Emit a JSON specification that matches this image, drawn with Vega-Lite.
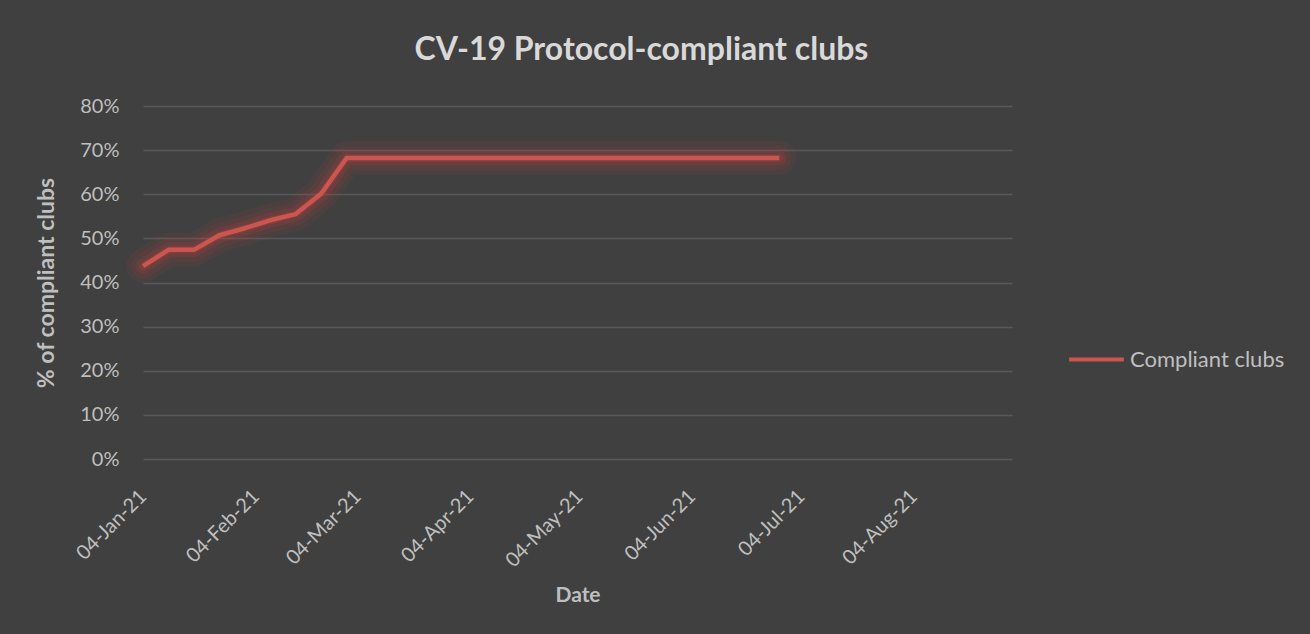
{
  "$schema": "https://vega.github.io/schema/vega-lite/v6.json",
  "width": 869,
  "height": 353,
  "autosize": "none",
  "padding": {"left": 143, "top": 106, "right": 298, "bottom": 175},
  "background": "#404040",
  "title": {
    "text": "CV-19 Protocol-compliant clubs",
    "anchor": "middle",
    "dx": 64,
    "offset": 29,
    "font": "Lato",
    "fontSize": 32,
    "fontWeight": "bold",
    "color": "#d9d9d9"
  },
  "config": {
    "view": {"stroke": null},
    "font": "Lato"
  },
  "data": {
    "values": [
      {"date": "2021-01-04", "value": 0.437, "series": "Compliant clubs"},
      {"date": "2021-01-11", "value": 0.474, "series": "Compliant clubs"},
      {"date": "2021-01-18", "value": 0.474, "series": "Compliant clubs"},
      {"date": "2021-01-25", "value": 0.507, "series": "Compliant clubs"},
      {"date": "2021-02-01", "value": 0.523, "series": "Compliant clubs"},
      {"date": "2021-02-08", "value": 0.541, "series": "Compliant clubs"},
      {"date": "2021-02-15", "value": 0.555, "series": "Compliant clubs"},
      {"date": "2021-02-22", "value": 0.601, "series": "Compliant clubs"},
      {"date": "2021-03-01", "value": 0.682, "series": "Compliant clubs"},
      {"date": "2021-03-08", "value": 0.682, "series": "Compliant clubs"},
      {"date": "2021-03-15", "value": 0.682, "series": "Compliant clubs"},
      {"date": "2021-03-22", "value": 0.682, "series": "Compliant clubs"},
      {"date": "2021-03-29", "value": 0.682, "series": "Compliant clubs"},
      {"date": "2021-04-05", "value": 0.682, "series": "Compliant clubs"},
      {"date": "2021-04-12", "value": 0.682, "series": "Compliant clubs"},
      {"date": "2021-04-19", "value": 0.682, "series": "Compliant clubs"},
      {"date": "2021-04-26", "value": 0.682, "series": "Compliant clubs"},
      {"date": "2021-05-03", "value": 0.682, "series": "Compliant clubs"},
      {"date": "2021-05-10", "value": 0.682, "series": "Compliant clubs"},
      {"date": "2021-05-17", "value": 0.682, "series": "Compliant clubs"},
      {"date": "2021-05-24", "value": 0.682, "series": "Compliant clubs"},
      {"date": "2021-05-31", "value": 0.682, "series": "Compliant clubs"},
      {"date": "2021-06-07", "value": 0.682, "series": "Compliant clubs"},
      {"date": "2021-06-14", "value": 0.682, "series": "Compliant clubs"},
      {"date": "2021-06-21", "value": 0.682, "series": "Compliant clubs"},
      {"date": "2021-06-28", "value": 0.682, "series": "Compliant clubs"}
    ]
  },
  "encoding": {
    "x": {
      "field": "date",
      "type": "temporal",
      "scale": {
        "type": "utc",
        "domain": [
          {"utc": true, "year": 2021, "month": 1, "date": 4},
          {"utc": true, "year": 2021, "month": 8, "date": 31}
        ]
      },
      "axis": {
        "values": [
          {"utc": true, "year": 2021, "month": 1, "date": 4},
          {"utc": true, "year": 2021, "month": 2, "date": 4},
          {"utc": true, "year": 2021, "month": 3, "date": 4},
          {"utc": true, "year": 2021, "month": 4, "date": 4},
          {"utc": true, "year": 2021, "month": 5, "date": 4},
          {"utc": true, "year": 2021, "month": 6, "date": 4},
          {"utc": true, "year": 2021, "month": 7, "date": 4},
          {"utc": true, "year": 2021, "month": 8, "date": 4}
        ],
        "labelExpr": "utcFormat(datum.value, '%d-%b-%y')",
        "labelAngle": -45,
        "labelAlign": "right",
        "labelBaseline": "middle",
        "labelPadding": 34,
        "labelFontSize": 20,
        "labelColor": "#bfbfbf",
        "labelFont": "Lato",
        "labelOverlap": false,
        "labelBound": false,
        "ticks": false,
        "domain": false,
        "grid": false,
        "title": "Date",
        "titleFont": "Lato",
        "titleFontSize": 21,
        "titleFontWeight": "bold",
        "titleColor": "#bfbfbf",
        "titlePadding": 14
      }
    },
    "y": {
      "field": "value",
      "type": "quantitative",
      "scale": {"domain": [0, 0.8], "nice": false, "zero": true},
      "axis": {
        "values": [0, 0.1, 0.2, 0.3, 0.4, 0.5, 0.6, 0.7, 0.8],
        "format": ".0%",
        "labelFontSize": 20,
        "labelColor": "#bfbfbf",
        "labelFont": "Lato",
        "labelPadding": 24,
        "ticks": false,
        "domain": false,
        "grid": true,
        "gridColor": "#595959",
        "gridWidth": 1.5,
        "title": "% of compliant clubs",
        "titleFont": "Lato",
        "titleFontSize": 23,
        "titleFontWeight": "bold",
        "titleColor": "#bfbfbf",
        "titlePadding": 21
      }
    }
  },
  "layer": [
    {
      "mark": {"type": "line", "color": "#b0403d", "strokeWidth": 34, "opacity": 0.09, "strokeJoin": "round", "strokeCap": "round"}
    },
    {
      "mark": {"type": "line", "color": "#b0403d", "strokeWidth": 24, "opacity": 0.13, "strokeJoin": "round", "strokeCap": "round"}
    },
    {
      "mark": {"type": "line", "color": "#b0403d", "strokeWidth": 15, "opacity": 0.18, "strokeJoin": "round", "strokeCap": "round"}
    },
    {
      "mark": {"type": "line", "color": "#b0403d", "strokeWidth": 8, "opacity": 0.25, "strokeJoin": "round", "strokeCap": "round"}
    },
    {
      "mark": {"type": "line", "strokeWidth": 4.5, "strokeJoin": "round", "strokeCap": "butt"},
      "encoding": {
        "color": {
          "field": "series",
          "type": "nominal",
          "scale": {"range": ["#cd5550"]},
          "legend": {
            "title": null,
            "orient": "none",
            "legendX": 924,
            "legendY": 224,
            "symbolType": "stroke",
            "symbolSize": 3000,
            "symbolStrokeWidth": 4,
            "labelFontSize": 22,
            "labelColor": "#bfbfbf",
            "labelFont": "Lato",
            "labelOffset": 4
          }
        }
      }
    }
  ]
}
